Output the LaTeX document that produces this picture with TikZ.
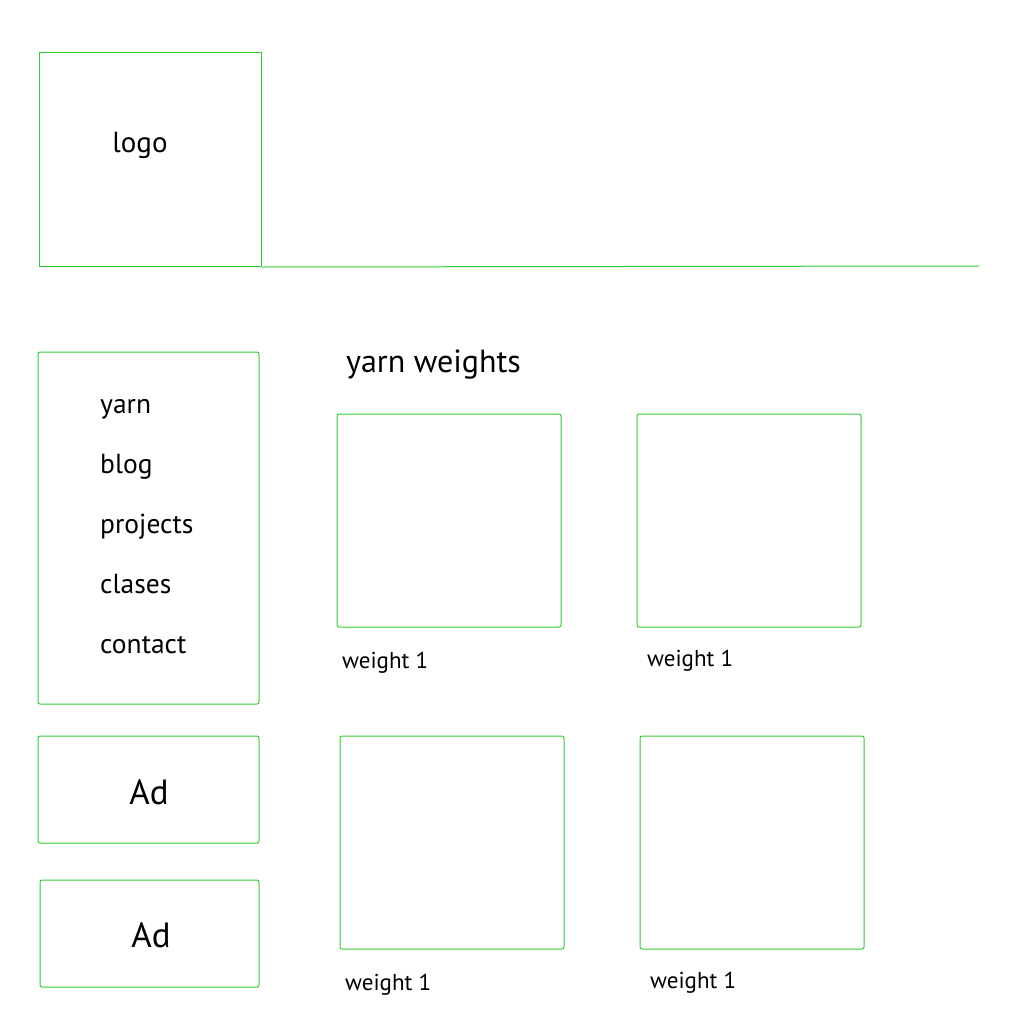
\documentclass[tikz,border=0pt]{standalone}
\usepackage{fontspec}
\setmainfont{PT Sans}
\definecolor{wfgreen}{RGB}{51,204,51}
\begin{document}
\begin{tikzpicture}[x=1pt,y=-1pt,
  box/.style={draw=wfgreen,line width=1pt,rounded corners=2pt},
  sbox/.style={draw=wfgreen,line width=1pt},
  lbl/.style={inner sep=0pt,anchor=base west},
  navtxt/.style={lbl,font=\fontsize{27.5}{32}\selectfont},
  wtxt/.style={lbl,font=\fontsize{23}{27}\selectfont}]
\useasboundingbox (0,0) rectangle (1020,1020);
% header
\node[sbox,minimum width=222pt,minimum height=214pt,anchor=north west,inner sep=0pt] (logo) at (39,52) {};
\node[font=\fontsize{29}{33}\selectfont,inner sep=0pt,anchor=base] (logotxt) at (140,152) {logo};
\coordinate (lineend) at (979,266);
\draw[wfgreen,line width=1pt] (logo.south east) -- (lineend);
% nav
\draw[box] (38,352) rectangle (259,704);
\node[navtxt] (n1) at (100,413) {yarn};
\node[navtxt] (n2) at (100,473) {blog};
\node[navtxt] (n3) at (100,533) {projects};
\node[navtxt] (n4) at (100,593) {clases};
\node[navtxt] (n5) at (100,653) {contact};
% ads
\draw[box] (38,736) rectangle (259,843);
\node[font=\fontsize{35}{40}\selectfont,inner sep=0pt,anchor=base] (ad1) at (149,804) {Ad};
\draw[box] (40,880) rectangle (259,987);
\node[font=\fontsize{35}{40}\selectfont,inner sep=0pt,anchor=base] (ad2) at (151,947) {Ad};
% content
\node[lbl,font=\fontsize{32}{37}\selectfont] (title) at (346,372) {yarn weights};
\draw[box] (337,414) rectangle (561,627);
\draw[box] (637,414) rectangle (861,627);
\draw[box] (340,736) rectangle (564,949);
\draw[box] (640,736) rectangle (864,949);
\node[wtxt] (w1) at (342,668) {weight 1};
\node[wtxt] (w2) at (647,666) {weight 1};
\node[wtxt] (w3) at (345,990) {weight 1};
\node[wtxt] (w4) at (650,988) {weight 1};
\end{tikzpicture}
\end{document}
